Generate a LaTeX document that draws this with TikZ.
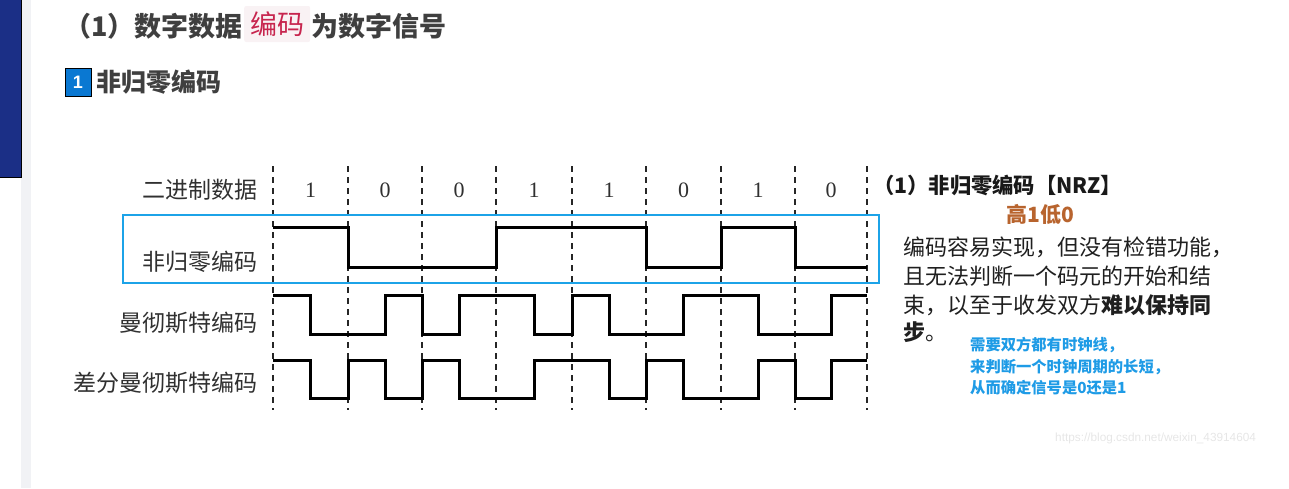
\documentclass[tikz,border=0pt]{standalone}
\usepackage{fontspec}
\setmainfont{Liberation Serif}
\newfontfamily\cjk{Noto Sans CJK SC}
\newfontfamily\wm{Liberation Sans}
\definecolor{navy}{HTML}{1B2F86}
\definecolor{strip}{HTML}{F1F2F5}
\definecolor{titlegray}{HTML}{3F3F3F}
\definecolor{codered}{HTML}{C7254E}
\definecolor{codebg}{HTML}{F9F2F4}
\definecolor{badge}{HTML}{0A78D2}
\definecolor{frameblue}{HTML}{1CA3E8}
\definecolor{labelgray}{HTML}{303030}
\definecolor{brown}{HTML}{B8642E}
\definecolor{noteblue}{HTML}{1E9BE6}
\definecolor{wmgray}{HTML}{E6E6E6}
\tikzset{
  sz/.style={font=\cjk\fontsize{#1}{#1}\selectfont},
  rowlabel/.style={sz=23, text=labelgray, anchor=east, inner sep=0pt},
  bit/.style={font=\fontsize{22}{22}\selectfont, text=labelgray, inner sep=0pt},
  grid/.style={line width=1.6pt, dash pattern=on 6pt off 5pt, black!85},
  wave/.style={line width=3pt, black, line join=miter},
  para/.style={sz=22, text=black!88, anchor=west, inner sep=0pt},
  note/.style={font=\cjk\bfseries\fontsize{15.3}{15.3}\selectfont, text=noteblue, anchor=west, inner sep=0pt},
}
\begin{document}
\begin{tikzpicture}[x=1pt,y=-1pt]
\useasboundingbox (0,0) rectangle (1289,488);
% page decorations
\fill[strip] (21,0) rectangle (31,488);
\fill[navy] (0,0) rectangle (21,177);
\draw[black,line width=0.8pt] (21,0) -- (21,177) -- (0,177);
% title
\node[font=\cjk\bfseries\fontsize{27}{27}\selectfont, text=titlegray, anchor=east, inner sep=0pt] (t1) at (243,26) {（1）数字数据};
\node[fill=codebg, rounded corners=2pt, minimum width=66pt, minimum height=36pt, inner sep=0pt, anchor=west,
      font=\cjk\fontsize{27}{27}\selectfont, text=codered] (t2) at (244,24) {编码};
\node[font=\cjk\bfseries\fontsize{27}{27}\selectfont, text=titlegray, anchor=west, inner sep=0pt] (t3) at (311,26) {为数字信号};
% heading
\node[fill=badge, draw=black, line width=1pt, minimum width=26pt, minimum height=28pt, inner sep=0pt,
      font=\wm\bfseries\fontsize{18}{18}\selectfont, text=white] (b1) at (78,82) {1};
\node[font=\cjk\bfseries\fontsize{25}{25}\selectfont, text=titlegray, anchor=west, inner sep=0pt] (h1) at (96,82) {非归零编码};
% grid lines
\foreach \x [count=\i] in {273,348,422,496,572,646,721,795,867}
  \draw[grid] (\x,166) -- (\x,410);
% frame
\draw[frameblue, line width=2.8pt] (123,215) rectangle (879,283);
% row labels
\node[rowlabel] (l1) at (258,190) {二进制数据};
\node[rowlabel] (l2) at (258,262) {非归零编码};
\node[rowlabel] (l3) at (258,323) {曼彻斯特编码};
\node[rowlabel] (l4) at (258,383) {差分曼彻斯特编码};
% bits
\foreach \x/\b [count=\i] in {310.5/1,385/0,459/0,534/1,609/1,683.5/0,758/1,831/0}
  \node[bit] (bit\i) at (\x,190) {\b};
% NRZ
\draw[wave] (273,227) -- (348,227) -- (348,267) -- (496,267) -- (496,227) -- (646,227) -- (646,267) -- (721,267) -- (721,227) -- (795,227) -- (795,267) -- (867,267);
% Manchester
\draw[wave] (273,295) -- (310.5,295) -- (310.5,334) -- (385,334) -- (385,295) -- (422,295) -- (422,334) -- (459,334) -- (459,295) -- (534,295) -- (534,334) -- (572,334) -- (572,295) -- (609,295) -- (609,334) -- (683.5,334) -- (683.5,295) -- (758,295) -- (758,334) -- (831,334) -- (831,295) -- (867,295);
% Differential Manchester
\draw[wave] (273,360) -- (310.5,360) -- (310.5,398) -- (348,398) -- (348,360) -- (385,360) -- (385,398) -- (422,398) -- (422,360) -- (459,360) -- (459,398) -- (534,398) -- (534,360) -- (609,360) -- (609,398) -- (646,398) -- (646,360) -- (683.5,360) -- (683.5,398) -- (758,398) -- (758,360) -- (795,360) -- (795,398) -- (831,398) -- (831,360) -- (867,360);
% right text
\node[font=\cjk\bfseries\fontsize{21.3}{21.3}\selectfont, text=black!90, anchor=west, inner sep=0pt] (r0) at (873,185) {（1）非归零编码【NRZ】};
\node[font=\cjk\bfseries\fontsize{21}{21}\selectfont, text=brown, inner sep=0pt] (r1) at (1040,214) {高1低0};
\node[para] (p1) at (903,247) {编码容易实现，但没有检错功能，};
\node[para] (p2) at (903,276) {且无法判断一个码元的开始和结};
\node[para] (p3) at (903,305) {束，以至于收发双方\textbf{难以保持同}};
\node[para] (p4) at (903,332) {\textbf{步}。};
\node[note] (n1) at (970,345) {需要双方都有时钟线，};
\node[note] (n2) at (970,367) {来判断一个时钟周期的长短，};
\node[note] (n3) at (970,388) {从而确定信号是0还是1};
% watermark
\node[font=\wm\fontsize{11.8}{11.8}\selectfont, text=wmgray, anchor=west, inner sep=0pt] (wm) at (1055,438) {https://blog.csdn.net/weixin\_43914604};
\end{tikzpicture}
\end{document}
